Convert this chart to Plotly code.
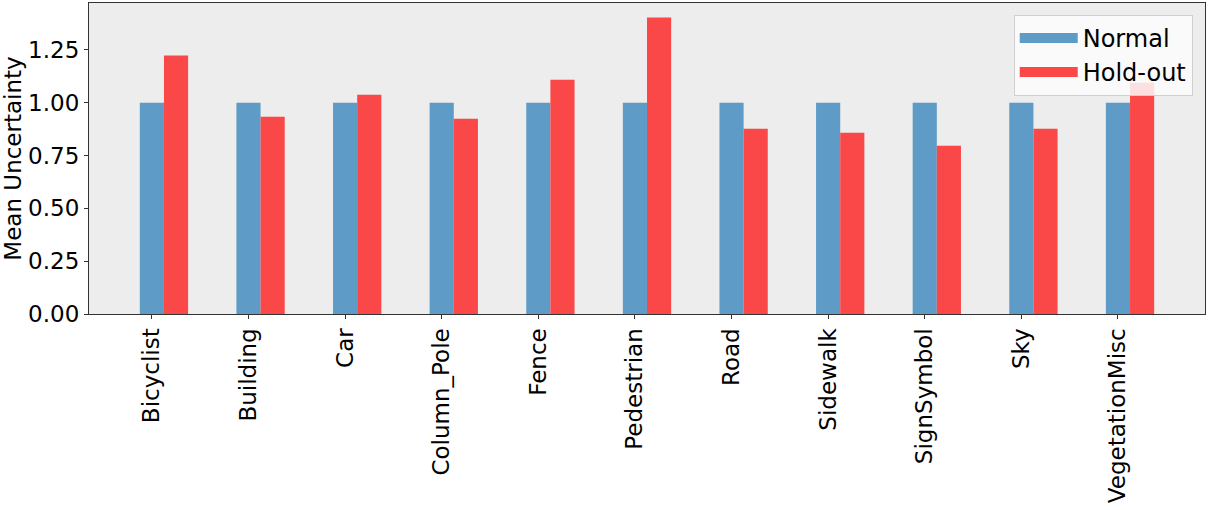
import plotly.graph_objects as go

categories = ["Bicyclist", "Building", "Car", "Column_Pole", "Fence", "Pedestrian",
              "Road", "Sidewalk", "SignSymbol", "Sky", "VegetationMisc"]
normal = [1.0, 1.0, 1.0, 1.0, 1.0, 1.0, 1.0, 1.0, 1.0, 1.0, 1.0]
holdout = [1.223, 0.934, 1.038, 0.924, 1.109, 1.403, 0.877, 0.858, 0.796, 0.877, 1.095]
y_ticks = [0.0, 0.25, 0.5, 0.75, 1.0, 1.25]

series_names = ["Normal", "Hold-out"]
series_colors = ["#5E9BC6", "#FA4848"]

idx = list(range(len(categories)))

fig = go.Figure()
for name, vals, col in zip(series_names, [normal, holdout], series_colors):
    fig.add_trace(go.Bar(x=idx, y=vals, name=name, marker_color=col,
                         marker_line_width=0, legendgroup=name, showlegend=False))
# legend entries drawn as wide patches (matplotlib-like)
for name, col in zip(series_names, series_colors):
    fig.add_trace(go.Scatter(x=[None], y=[None], mode="lines", name=name,
                             line=dict(color=col, width=17), legendgroup=name,
                             hoverinfo="skip"))

font_family = "DejaVu Sans"
fig.update_layout(
    width=1210, height=510,
    barmode="group", bargap=0.5, bargroupgap=0,
    paper_bgcolor="white", plot_bgcolor="#EDEDED",
    margin=dict(l=89, r=5, t=3, b=196, autoexpand=False),
    font=dict(family=font_family, size=23, color="black"),
    showlegend=True,
    legend=dict(x=0.989, y=0.962, xanchor="right", yanchor="top",
                bgcolor="rgba(252,252,252,0.85)", bordercolor="#D0D0D0", borderwidth=1,
                font=dict(size=24), itemwidth=58, tracegroupgap=0),
    xaxis=dict(
        range=[-0.776, len(categories) - 1 + 0.776],
        tickmode="array",
        tickvals=[i - 0.125 for i in idx],
        ticktext=categories,
        tickangle=-90,
        ticks="outside", ticklen=4, tickcolor="#333333",
        showline=True, linecolor="#333333", linewidth=1.2, mirror=True,
        showgrid=False, zeroline=False, automargin=False,
        tickfont=dict(size=23),
    ),
    yaxis=dict(
        range=[0, 1.472],
        tickmode="array", tickvals=y_ticks,
        ticktext=[f"{v:.2f}" for v in y_ticks],
        ticks="outside", ticklen=4, tickcolor="#333333",
        showline=True, linecolor="#333333", linewidth=1.2, mirror=True,
        showgrid=False, zeroline=False, automargin=False,
        title=dict(text="Mean Uncertainty", font=dict(size=23), standoff=8),
        tickfont=dict(size=23),
    ),
)

fig.write_html("out.html", config={"displayModeBar": False},
               post_script="document.body.style.margin='0';")
